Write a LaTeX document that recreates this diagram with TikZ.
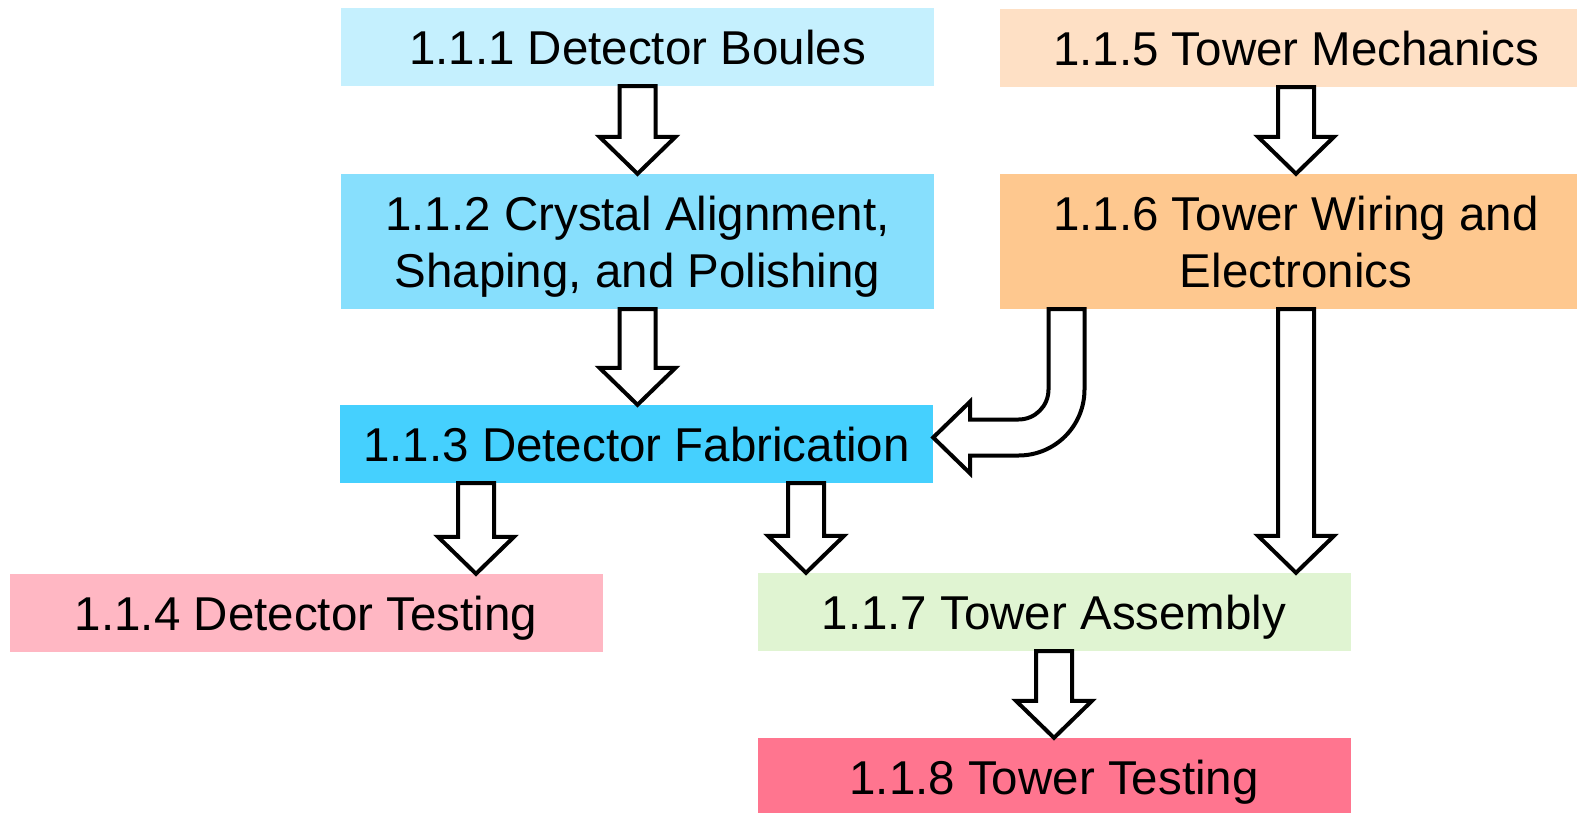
\documentclass[tikz,border=0pt]{standalone}
\usepackage{fontspec}
\setmainfont{Liberation Sans}
\usepackage{tikz}
\usetikzlibrary{calc}

\definecolor{boulecol}{HTML}{C5F0FE}
\definecolor{aligncol}{HTML}{87DFFD}
\definecolor{fabcol}{HTML}{45D0FE}
\definecolor{dtestcol}{HTML}{FFB7C3}
\definecolor{mechcol}{HTML}{FEE0C5}
\definecolor{wirecol}{HTML}{FEC88F}
\definecolor{assycol}{HTML}{E0F4D2}
\definecolor{ttestcol}{HTML}{FF758F}

\tikzstyle{task}=[minimum width=593pt,minimum height=78pt,inner sep=0pt,text height=34pt,text depth=0pt,align=center,font=\fontsize{47.5}{57}\selectfont]
\tikzstyle{twoline}=[task,minimum height=135pt,text height=91pt]
\tikzstyle{hollow}=[draw,fill=white,line width=4pt,line join=miter]

% fat outlined arrow straight down from #1 to #2, shifted by #3
\newcommand\fatarrow[3]{%
  \path ($(#1.south)+(#3,0)$) coordinate (fa-s);
  \path (fa-s |- #2.north) coordinate (fa-t);
  \draw[hollow] ($(fa-s)+(-18,0)$) -- ($(fa-t)+(-18,37)$) -- ($(fa-t)+(-38,37)$) -- (fa-t)
    -- ($(fa-t)+(38,37)$) -- ($(fa-t)+(18,37)$) -- ($(fa-s)+(18,0)$) -- cycle;
}

\begin{document}
\begin{tikzpicture}[x=1pt,y=1pt]
    \useasboundingbox (0,-812) rectangle (1577,0);
    \foreach \pos/\name/\col/\txt in {{(637.5,-47)/b1/boulecol/1.1.1 Detector Boules},
        {(636.5,-444)/b3/fabcol/1.1.3 Detector Fabrication},
        {(306,-613)/b4/dtestcol/1.1.4 Detector Testing},
        {(1296,-48)/b5/mechcol/1.1.5 Tower Mechanics},
        {(1054,-612)/b7/assycol/1.1.7 Tower Assembly},
        {(1054,-777)/b8/ttestcol/1.1.8 Tower Testing}}
        \node[task,fill=\col] (\name) at \pos {\txt};
    \node[twoline,fill=aligncol] (b2) at (637.5,-241.5) {1.1.2 Crystal Alignment,\\Shaping, and Polishing};
    \node[twoline,fill=wirecol] (b6) at (1296,-241.5) {1.1.6 Tower Wiring and\\Electronics};

    \foreach \src/\dst/\off in {b1/b2/0,b2/b3/0,b3/b4/-160.5,b3/b7/169.5,b5/b6/0,b6/b7/0,b7/b8/0}
        \fatarrow{\src}{\dst}{\off};

    % bent arrow from the wiring box into the fabrication box
    \path ($(b6.south)+(-229.5,0)$) coordinate (cs);
    \path ($(b3.east)+(0,6.5)$) coordinate (ct);
    \path (cs |- ct) coordinate (cc);
    \draw[hollow] ($(cs)+(-18,0)$) -- ($(cc)+(-18,48)$) to[out=-90,in=0] ($(cc)+(-48,18)$)
        -- ($(ct)+(37,18)$) -- ($(ct)+(37,36)$) -- (ct) -- ($(ct)+(37,-36)$) -- ($(ct)+(37,-18)$)
        -- ($(cc)+(-48,-18)$) to[out=0,in=-90] ($(cc)+(18,48)$) -- ($(cs)+(18,0)$) -- cycle;
\end{tikzpicture}
\end{document}
